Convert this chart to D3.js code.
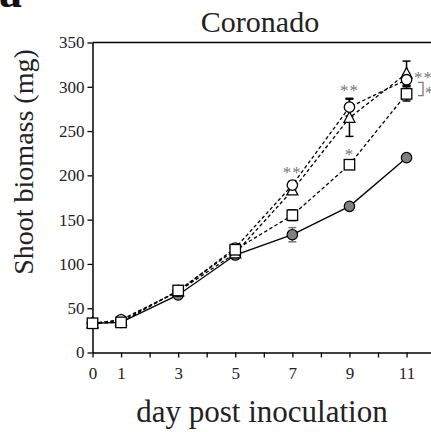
<!DOCTYPE html>
<html>
<head>
<meta charset="utf-8">
<script src="https://cdn.jsdelivr.net/npm/d3@7"></script>
<style>
html,body{margin:0;padding:0;background:#fff;}
svg{display:block;}
text{font-family:"Liberation Serif","Times New Roman",serif;}
</style>
</head>
<body>
<svg id="chart" width="431" height="432"></svg>
<script>
// ---- data ----
const days = [0, 1, 3, 5, 7, 9, 11];
const xTickLabels = [0, 1, 3, 5, 7, 9, 11];
const yTickValues = [0, 50, 100, 150, 200, 250, 300, 350];

const controlMean  = [33, 34, 65, 110, 133, 165, 220];
const controlErr   = [2, 2, 2, 3, 8, 3, 4];
const circleMean   = [33, 37, 69, 118, 189, 277, 308];
const circleErr    = [2, 3, 3, 4, 4, 10, 6];
const triangleMean = [33, 36, 69, 112, 183, 265, 315];
const triangleErr  = [2, 2, 3, 4, 4, 21, 14];
const squareMean   = [33, 34, 70, 116, 155, 212, 292];
const squareErr    = [2, 2, 3, 5, 6, 5, 8];

const title = "Coronado";
const xLabel = "day post inoculation";
const yLabel = "Shoot biomass (mg)";

// significance annotations
const sigDays   = [7, 9, 9];
const sigValues = [207, 300, 228];
const sigTexts  = ["**", "**", "*"];

// ---- drawing ----
const svg = d3.select("#chart");
svg.append("rect").attr("width", 431).attr("height", 432).attr("fill", "#fff");

const x = d3.scaleLinear().domain([0, 12]).range([92.5, 92.5 + 12 * 28.55]);
const y = d3.scaleLinear().domain([0, 350]).range([352.5, 42.5]);

// panel letter (cropped)
svg.append("text").attr("x", -1).attr("y", 7).attr("font-size", 46)
  .attr("font-weight", "bold").attr("fill", "#111").text("a");

// title
svg.append("text").attr("x", 260).attr("y", 32).attr("text-anchor", "middle")
  .attr("font-size", 30).attr("fill", "#222").text(title);

// top border
svg.append("line").attr("x1", x(0)).attr("x2", 431).attr("y1", y(350)).attr("y2", y(350))
  .attr("stroke", "#000").attr("stroke-width", 1.5);

// axes
const yAxis = d3.axisLeft(y).tickValues(yTickValues).tickSize(5).tickSizeOuter(0).tickPadding(3);
const gy = svg.append("g").attr("transform", `translate(${x(0)},0)`).call(yAxis);
const xAxis = d3.axisBottom(x).tickValues(d3.range(0, 13)).tickSize(5).tickSizeOuter(0).tickPadding(9)
  .tickFormat(d => xTickLabels.includes(d) ? d : "");
const gx = svg.append("g").attr("transform", `translate(0,${y(0)})`).call(xAxis);
[gx, gy].forEach(g => {
  g.select(".domain").attr("stroke", "#000").attr("stroke-width", 1.5);
  g.selectAll(".tick line").attr("stroke", "#000").attr("stroke-width", 1.3);
  g.selectAll(".tick text").attr("font-size", 17).attr("fill", "#222")
    .attr("font-family", "'Liberation Serif','Times New Roman',serif");
});

// axis labels
svg.append("text").attr("x", 262).attr("y", 422).attr("text-anchor", "middle")
  .attr("font-size", 31).attr("fill", "#222").text(xLabel);
svg.append("text").attr("transform", "translate(33,162) rotate(-90)").attr("text-anchor", "middle")
  .attr("font-size", 28).attr("fill", "#222").text(yLabel);

const series = [
  {mean: controlMean, err: controlErr, shape: "filled", dash: null, errColor: "#777"},
  {mean: triangleMean, err: triangleErr, shape: "triangle", dash: "3.5,2.5", errColor: "#000"},
  {mean: circleMean, err: circleErr, shape: "circle", dash: "3.5,2.5", errColor: "#000"},
  {mean: squareMean, err: squareErr, shape: "square", dash: "3.5,2.5", errColor: "#000"}
];

const line = d3.line().x(d => x(d[0])).y(d => y(d[1]));

// lines
series.forEach(s => {
  const pts = days.map((d, i) => [d, s.mean[i]]);
  svg.append("path").attr("d", line(pts)).attr("fill", "none").attr("stroke", "#000")
    .attr("stroke-width", 1.3).attr("stroke-dasharray", s.dash);
});

// error bars
series.forEach(s => {
  days.forEach((d, i) => {
    const g = svg.append("g").attr("stroke", s.errColor).attr("stroke-width", 1.5);
    const lo = y(s.mean[i] - s.err[i]), hi = y(s.mean[i] + s.err[i]);
    g.append("line").attr("x1", x(d)).attr("x2", x(d)).attr("y1", lo).attr("y2", hi);
    g.append("line").attr("x1", x(d) - 4).attr("x2", x(d) + 4).attr("y1", lo).attr("y2", lo);
    g.append("line").attr("x1", x(d) - 4).attr("x2", x(d) + 4).attr("y1", hi).attr("y2", hi);
  });
});

// markers
series.forEach(s => {
  days.forEach((d, i) => {
    const cx = x(d), cy = y(s.mean[i]);
    if (s.shape === "filled") {
      svg.append("circle").attr("cx", cx).attr("cy", cy).attr("r", 5.2)
        .attr("fill", "#808080").attr("stroke", "#000").attr("stroke-width", 1.2);
    } else if (s.shape === "circle") {
      svg.append("circle").attr("cx", cx).attr("cy", cy).attr("r", 5.2)
        .attr("fill", "#fff").attr("stroke", "#000").attr("stroke-width", 1.3);
    } else if (s.shape === "triangle") {
      const h = 10, w = 11;
      svg.append("path").attr("d", `M${cx},${cy - h * 0.6}L${cx + w / 2},${cy + h * 0.45}L${cx - w / 2},${cy + h * 0.45}Z`)
        .attr("fill", "#fff").attr("stroke", "#000").attr("stroke-width", 1.3);
    } else {
      const a = 10.5;
      svg.append("rect").attr("x", cx - a / 2).attr("y", cy - a / 2).attr("width", a).attr("height", a)
        .attr("fill", "#fff").attr("stroke", "#000").attr("stroke-width", 1.3);
    }
  });
});

// significance marks
sigDays.forEach((d, i) => {
  svg.append("text").attr("x", x(d)).attr("y", y(sigValues[i]) + 9).attr("text-anchor", "middle")
    .attr("font-size", 17).attr("fill", "#777").attr("letter-spacing", 1).text(sigTexts[i]);
});
// day 11 annotations
svg.append("text").attr("x", 414).attr("y", y(315) + 9).attr("font-size", 17)
  .attr("fill", "#777").attr("letter-spacing", 1).text("**");
const bTop = y(305), bBot = y(290);
svg.append("path").attr("d", `M418,${bTop}H423V${bBot}H418`).attr("fill", "none")
  .attr("stroke", "#777").attr("stroke-width", 1.3);
svg.append("text").attr("x", 425).attr("y", y(297) + 9).attr("font-size", 17)
  .attr("fill", "#777").text("*");
</script>
</body>
</html>
